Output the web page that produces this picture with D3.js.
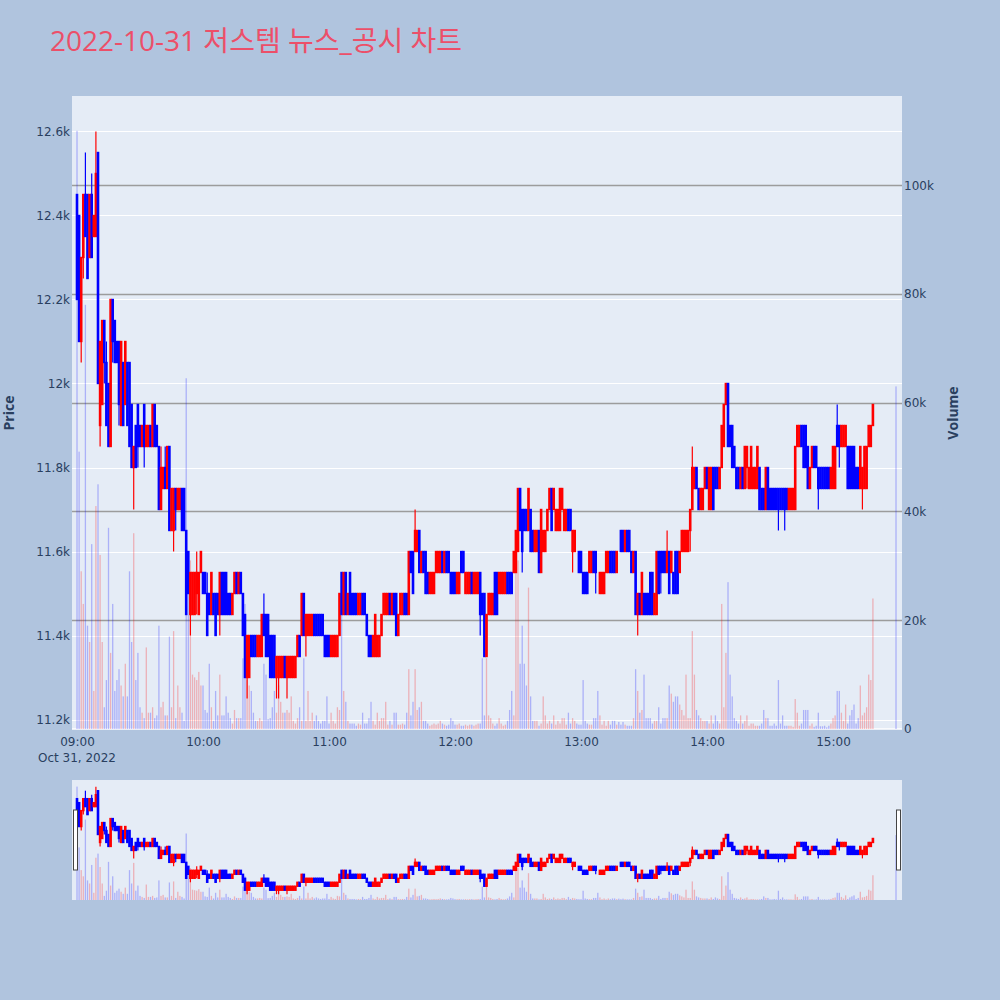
<!DOCTYPE html>
<html><head><meta charset="utf-8">
<script src="https://cdn.jsdelivr.net/npm/d3@7"></script>
<style>
body{margin:0;background:#B0C4DE;}
svg{display:block;font-family:"Open Sans",Verdana,Arial,"Noto Sans CJK KR",sans-serif;}
</style>
</head><body>
<svg id="chart" width="1000" height="1000"></svg>
<script>
// ---------------- data ----------------
const titleText = "2022-10-31 저스템 뉴스_공시 차트";
const sessionDate = "2022-10-31";
const firstMinute = "09:00";
const closingAuction = "15:30";
const continuousMinutes = 380; // 09:00 .. 15:19, one candle per minute

const opens = [
12450,12400,12100,12300,12450,12450,12300,12450,12350,12350,
12550,11900,11950,12150,12050,12000,11850,12200,12150,12100,
12100,11900,12050,11950,12050,12050,11950,11800,11900,11950,
11900,11850,11950,11850,11850,11900,11850,11950,11900,11850,
11700,11750,11800,11750,11850,11650,11650,11750,11700,11700,
11750,11750,11650,11600,11450,11450,11450,11500,11450,11550,
11550,11550,11500,11500,11450,11500,11500,11500,11450,11550,
11550,11550,11500,11500,11450,11500,11550,11500,11550,11500,
11450,11300,11300,11400,11400,11400,11350,11350,11350,11450,
11450,11450,11400,11400,11400,11300,11300,11300,11300,11350,
11300,11300,11300,11300,11300,11350,11400,11400,11500,11400,
11400,11400,11400,11450,11450,11450,11450,11450,11400,11400,
11400,11350,11350,11350,11350,11400,11550,11450,11550,11450,
11550,11500,11500,11500,11450,11450,11500,11500,11450,11400,
11400,11350,11350,11350,11350,11400,11450,11450,11450,11500,
11450,11500,11500,11400,11450,11450,11500,11500,11450,11600,
11600,11600,11600,11650,11550,11600,11600,11550,11500,11500,
11500,11550,11550,11550,11600,11550,11600,11600,11550,11550,
11550,11500,11500,11600,11600,11500,11500,11500,11550,11500,
11500,11500,11550,11500,11500,11350,11450,11450,11450,11550,
11550,11500,11500,11500,11500,11550,11550,11550,11550,11550,
11600,11750,11700,11700,11700,11650,11700,11650,11600,11600,
11650,11550,11600,11600,11650,11700,11750,11700,11650,11650,
11650,11700,11650,11650,11700,11700,11600,11600,11600,11600,
11600,11550,11550,11550,11550,11550,11600,11600,11550,11500,
11500,11500,11550,11550,11600,11600,11600,11550,11600,11650,
11650,11600,11650,11650,11600,11550,11600,11450,11500,11450,
11500,11500,11500,11550,11550,11450,11450,11600,11600,11600,
11600,11550,11600,11550,11550,11600,11600,11550,11600,11600,
11600,11600,11650,11700,11750,11800,11750,11700,11700,11750,
11800,11700,11700,11800,11800,11800,11750,11800,11850,11950,
12000,11900,11900,11850,11800,11800,11750,11800,11750,11800,
11750,11750,11750,11750,11750,11800,11750,11750,11700,11800,
11750,11750,11750,11750,11750,11750,11750,11750,11750,11700,
11700,11700,11700,11850,11850,11900,11900,11900,11850,11750,
11800,11850,11850,11800,11800,11800,11800,11800,11800,11750,
11750,11750,11900,11900,11850,11850,11850,11850,11850,11850,
11850,11800,11800,11750,11750,11750,11750,11850,11850,11900,
11900];

const highs = [
12450,12400,12300,12450,12550,12450,12450,12500,12400,12600,
12550,12100,12150,12150,12100,12000,12200,12200,12150,12100,
12100,12100,12050,12100,12050,12050,11950,11850,11900,11950,
11900,11900,11950,11900,11900,11900,11950,11950,11900,11850,
11850,11800,11850,11850,11850,11750,11750,11750,11750,11750,
11750,11750,11650,11600,11550,11550,11550,11600,11550,11600,
11550,11550,11550,11500,11550,11500,11500,11500,11550,11550,
11550,11550,11500,11500,11500,11550,11550,11550,11550,11500,
11450,11400,11400,11400,11400,11400,11400,11400,11450,11500,
11450,11450,11400,11400,11400,11350,11350,11350,11350,11350,
11350,11350,11350,11350,11350,11400,11400,11500,11500,11450,
11450,11450,11450,11450,11450,11450,11450,11450,11400,11400,
11400,11400,11400,11400,11400,11500,11550,11550,11550,11500,
11550,11500,11500,11500,11500,11500,11500,11500,11450,11400,
11400,11400,11450,11400,11400,11450,11500,11500,11500,11500,
11500,11500,11500,11450,11500,11500,11500,11500,11600,11600,
11600,11700,11650,11650,11600,11600,11600,11550,11550,11550,
11550,11600,11600,11600,11600,11600,11600,11600,11550,11550,
11550,11550,11550,11600,11600,11550,11550,11550,11550,11550,
11550,11550,11550,11500,11500,11450,11500,11500,11500,11550,
11550,11550,11550,11550,11550,11550,11550,11550,11600,11650,
11750,11750,11700,11700,11700,11750,11700,11650,11650,11650,
11650,11700,11650,11650,11700,11750,11750,11750,11700,11700,
11750,11750,11700,11700,11700,11700,11650,11650,11600,11600,
11600,11550,11550,11550,11600,11600,11600,11600,11550,11550,
11550,11550,11600,11600,11600,11600,11600,11600,11600,11650,
11650,11650,11650,11650,11600,11600,11600,11500,11500,11550,
11500,11500,11500,11550,11550,11500,11600,11600,11600,11600,
11600,11650,11600,11600,11550,11600,11600,11600,11650,11650,
11650,11650,11700,11850,11800,11800,11750,11750,11750,11800,
11800,11800,11800,11800,11800,11800,11800,11900,11950,12000,
12000,11900,11900,11850,11800,11800,11800,11800,11850,11850,
11800,11850,11800,11800,11850,11800,11750,11750,11800,11800,
11750,11750,11750,11750,11750,11750,11750,11750,11750,11750,
11750,11750,11850,11900,11900,11900,11900,11900,11850,11800,
11850,11850,11850,11800,11800,11800,11800,11800,11800,11800,
11850,11850,11950,11900,11900,11900,11900,11850,11850,11850,
11850,11800,11800,11850,11800,11850,11850,11900,11900,11950,
11900];

const lows = [
12200,12100,12050,12250,12350,12250,12300,12300,12350,12350,
12000,11850,11950,12000,11900,11850,11850,12050,12050,12050,
11900,11900,11900,11950,11900,11850,11800,11700,11800,11800,
11850,11850,11800,11850,11850,11850,11850,11850,11850,11700,
11700,11750,11750,11750,11650,11650,11600,11650,11700,11700,
11650,11650,11450,11500,11400,11450,11450,11450,11450,11550,
11500,11500,11400,11450,11450,11450,11400,11450,11400,11450,
11450,11450,11450,11450,11450,11500,11500,11500,11500,11400,
11300,11250,11300,11350,11350,11350,11350,11350,11350,11400,
11350,11350,11300,11300,11300,11250,11250,11300,11300,11300,
11250,11300,11300,11300,11300,11350,11350,11400,11400,11350,
11400,11400,11400,11400,11400,11400,11400,11400,11350,11350,
11350,11350,11350,11350,11350,11400,11450,11450,11450,11450,
11450,11450,11450,11450,11450,11450,11450,11450,11400,11350,
11350,11350,11350,11350,11350,11400,11450,11450,11450,11450,
11450,11450,11400,11400,11450,11450,11450,11450,11450,11550,
11500,11600,11600,11550,11550,11550,11500,11500,11500,11500,
11500,11550,11550,11550,11550,11550,11550,11550,11500,11500,
11500,11500,11500,11550,11550,11500,11500,11500,11500,11500,
11500,11500,11400,11450,11350,11350,11450,11450,11450,11450,
11450,11500,11500,11500,11500,11500,11500,11500,11550,11550,
11600,11650,11550,11650,11650,11650,11600,11600,11600,11600,
11550,11550,11600,11600,11650,11700,11650,11700,11650,11650,
11650,11700,11650,11650,11650,11650,11550,11600,11600,11550,
11550,11500,11500,11500,11550,11550,11550,11500,11550,11500,
11500,11500,11550,11550,11550,11550,11550,11550,11600,11600,
11600,11600,11600,11600,11550,11550,11450,11400,11450,11450,
11450,11450,11450,11450,11450,11450,11450,11500,11500,11550,
11550,11550,11500,11550,11500,11500,11500,11550,11600,11600,
11600,11600,11600,11700,11750,11750,11700,11700,11700,11750,
11750,11700,11700,11700,11750,11750,11750,11800,11850,11950,
11850,11850,11800,11800,11750,11750,11750,11750,11750,11750,
11750,11750,11750,11750,11750,11700,11700,11700,11700,11700,
11700,11700,11700,11700,11650,11700,11700,11650,11700,11700,
11700,11700,11700,11850,11850,11850,11800,11800,11750,11750,
11800,11800,11800,11700,11750,11750,11750,11750,11750,11750,
11750,11750,11850,11800,11850,11850,11850,11750,11750,11750,
11750,11750,11750,11750,11700,11750,11750,11850,11850,11900,
11900];

const closes = [
12200,12100,12300,12450,12350,12250,12450,12300,12400,12500,
12000,12100,12150,12050,11900,11850,12200,12100,12050,12050,
11950,12100,11900,12100,11900,11850,11800,11850,11800,11850,
11850,11900,11850,11900,11900,11850,11950,11850,11850,11700,
11800,11800,11750,11850,11650,11750,11750,11700,11750,11750,
11650,11650,11450,11500,11550,11550,11550,11550,11550,11600,
11500,11500,11400,11450,11550,11450,11400,11450,11550,11450,
11450,11450,11450,11450,11500,11550,11500,11550,11500,11400,
11300,11400,11400,11350,11350,11350,11400,11400,11450,11400,
11350,11350,11300,11300,11300,11350,11350,11350,11350,11300,
11350,11350,11350,11350,11350,11400,11350,11500,11400,11450,
11450,11450,11450,11400,11400,11400,11400,11400,11350,11350,
11350,11400,11400,11400,11400,11500,11450,11550,11450,11500,
11450,11450,11450,11450,11500,11500,11450,11450,11400,11350,
11350,11400,11450,11400,11400,11450,11500,11500,11500,11450,
11500,11450,11400,11450,11500,11500,11450,11450,11600,11550,
11500,11650,11650,11550,11600,11550,11500,11500,11550,11550,
11550,11600,11600,11600,11550,11600,11550,11550,11500,11500,
11500,11550,11550,11550,11550,11550,11550,11550,11500,11550,
11550,11550,11450,11450,11350,11450,11500,11500,11500,11450,
11450,11550,11550,11550,11550,11500,11500,11500,11600,11650,
11750,11650,11600,11650,11650,11750,11600,11600,11650,11650,
11550,11700,11650,11650,11700,11750,11650,11750,11700,11700,
11750,11750,11700,11700,11650,11650,11650,11650,11600,11550,
11550,11500,11500,11500,11600,11600,11550,11550,11550,11550,
11550,11550,11600,11600,11550,11550,11550,11600,11600,11600,
11600,11650,11600,11600,11550,11600,11450,11500,11450,11550,
11450,11450,11450,11450,11450,11500,11600,11500,11550,11550,
11550,11600,11500,11600,11500,11500,11500,11600,11650,11650,
11650,11650,11700,11800,11800,11750,11700,11750,11750,11800,
11750,11800,11800,11700,11750,11750,11800,11900,11950,12000,
11850,11850,11800,11800,11750,11750,11800,11750,11850,11850,
11800,11850,11800,11800,11850,11700,11700,11700,11800,11700,
11700,11700,11700,11700,11700,11700,11700,11700,11700,11750,
11750,11750,11850,11900,11900,11850,11800,11800,11750,11800,
11850,11800,11800,11750,11750,11750,11750,11750,11750,11800,
11850,11850,11850,11850,11900,11900,11900,11750,11750,11750,
11750,11750,11750,11850,11800,11850,11850,11900,11900,11950,
11900];

const volumes = [
110000,51000,29000,23000,78000,19000,16000,34000,7000,41000,
45000,32000,16000,4000,9000,37000,14000,23000,7000,9000,
11000,8000,6000,12000,6000,29000,16000,36000,9000,14000,
4000,3000,2000,15000,3000,3000,4000,2000,2500,19000,
4000,5000,2500,2500,17000,4000,18000,2000,8000,4000,
3000,1500,64500,27000,31000,10000,9500,9000,10500,8000,
8000,3500,3000,12000,4000,1500,7000,2500,10000,2500,
2500,6000,3000,2000,1000,3500,2000,2000,2000,13000,
23000,9000,8000,7000,3000,1500,1500,2000,1500,12000,
10000,1800,2000,4000,7000,3000,8000,5000,3000,3000,
3500,3000,6000,1500,1000,2000,4000,1500,13000,1500,
7000,1500,3000,1500,2500,1500,1000,1500,1500,6000,
1000,3000,1500,1000,4000,3500,23000,7000,5000,1500,
1000,1000,1000,600,1000,800,3000,1000,1000,2000,
5000,1500,800,3000,1500,2000,2000,5000,800,1500,
800,3000,3000,800,800,1000,800,3000,11000,2500,
5000,11000,3500,4000,5000,1500,1500,1000,600,800,
1000,800,1000,1500,1000,800,600,800,2000,1500,
800,800,1000,600,600,800,600,800,800,600,
800,1000,1000,13000,2500,13000,2500,2000,1000,600,
1000,2000,1000,600,800,1500,3500,7000,2500,31000,
31000,12000,19000,12000,8000,26000,6000,1500,1500,1500,
600,1000,6000,2500,1000,1500,1000,2500,800,1500,
1000,2000,2000,800,3000,1000,2000,1500,1000,800,
800,9000,1500,1000,800,800,2000,2000,7000,2500,
800,1500,600,1500,800,1500,1500,800,1300,800,
1300,800,600,600,600,2000,11000,7000,3000,3500,
10000,2000,2000,2000,1000,1500,1500,4000,1000,2000,
2000,2000,8000,6500,5000,6000,6000,4500,3500,2500,
10000,2000,2000,18000,10000,3500,2500,2000,1500,1500,
1500,1000,2500,1000,2500,1500,1000,23000,4000,14000,
27000,10000,6000,2000,1500,1000,2500,1000,1500,2500,
600,1000,1000,600,600,600,1000,3500,2000,2000,
600,600,1000,600,9000,1000,2500,600,600,600,
600,400,5500,3000,600,1000,3500,3500,3500,600,
1000,400,600,3000,500,500,600,300,600,1000,
2000,2500,7000,7000,3000,1500,4500,1000,2500,3500,
4500,1000,2000,8000,2500,3000,4000,10000,9000,24000,
63000];

const priceTicks = [11200,11400,11600,11800,12000,12200,12400,12600];
const volumeTicks = [0,20000,40000,60000,80000,100000];
const hourTicks = ["09:00","10:00","11:00","12:00","13:00","14:00","15:00"];
const dateLabel = "Oct 31, 2022";

// ---------------- build ----------------
const parse = d3.timeParse("%Y-%m-%d %H:%M");
const t0 = parse(sessionDate + " " + firstMinute);
const times = d3.range(continuousMinutes).map(i => d3.timeMinute.offset(t0, i))
  .concat([parse(sessionDate + " " + closingAuction)]);
const rows = times.map((t, i) => ({t, o: opens[i], h: highs[i], l: lows[i], c: closes[i], v: volumes[i]}));

const UP = "#FF0000", DOWN = "#0000FF";
const colorOf = d => d.c > d.o ? UP : DOWN;
const TICK_FONT = '"DejaVu Sans", Verdana, sans-serif';

const P = {left: 72, right: 902, top: 96, bottom: 729};
const S = {top: 780, bottom: 900};

const x = d3.scaleTime()
  .domain([d3.timeSecond.offset(t0, -143), d3.timeSecond.offset(t0, 23571)])
  .range([P.left, P.right]);
const yP = d3.scaleLinear().domain([11177.4, 12684.5]).range([P.bottom, P.top]);
const yV = d3.scaleLinear().domain([0, 116400]).range([P.bottom, P.top]);
const ySP = d3.scaleLinear().domain(yP.domain()).range([S.bottom, S.top]);
const ySV = d3.scaleLinear().domain(yV.domain()).range([S.bottom, S.top]);

const svg = d3.select("#chart");
svg.append("rect").attr("width", 1000).attr("height", 1000).attr("fill", "#B0C4DE");

// title
svg.append("text").attr("x", 50).attr("y", 50.5)
  .attr("font-size", 28).attr("fill", "#EC4F69").text(titleText);

// plot background
svg.append("rect").attr("x", P.left).attr("y", P.top)
  .attr("width", P.right - P.left).attr("height", P.bottom - P.top).attr("fill", "#E5ECF6");

// price grid (white)
svg.append("g").selectAll("line").data(priceTicks).join("line")
  .attr("x1", P.left).attr("x2", P.right)
  .attr("y1", d => Math.round(yP(d)) + 0.5).attr("y2", d => Math.round(yP(d)) + 0.5)
  .attr("stroke", "#fff").attr("stroke-width", 1);
// volume grid (gray)
svg.append("g").selectAll("line").data(volumeTicks.filter(d => d > 0)).join("line")
  .attr("x1", P.left).attr("x2", P.right)
  .attr("y1", d => Math.round(yV(d)) + 0.5).attr("y2", d => Math.round(yV(d)) + 0.5)
  .attr("stroke", "#9C9C9C").attr("stroke-width", 1.3);
svg.append("line").attr("x1", P.left).attr("x2", P.right)
  .attr("y1", yV(0)).attr("y2", yV(0)).attr("stroke", "#fff").attr("stroke-width", 1.5);

function drawSeries(g, yPrice, yVol) {
  g.append("g").selectAll("rect").data(rows).join("rect")
    .attr("x", d => x(d.t) - 0.65).attr("width", 1.3)
    .attr("y", d => yVol(d.v)).attr("height", d => yVol(0) - yVol(d.v))
    .attr("fill", colorOf).attr("fill-opacity", 0.25);
  g.append("g").selectAll("line").data(rows).join("line")
    .attr("x1", d => x(d.t)).attr("x2", d => x(d.t))
    .attr("y1", d => yPrice(d.h)).attr("y2", d => yPrice(d.l))
    .attr("stroke", colorOf).attr("stroke-width", 1.2);
  g.append("g").selectAll("rect").data(rows).join("rect")
    .attr("x", d => x(d.t) - 0.6).attr("width", 1.2)
    .attr("y", d => Math.min(yPrice(d.o), yPrice(d.c)))
    .attr("height", d => Math.abs(yPrice(d.o) - yPrice(d.c)))
    .attr("fill", colorOf).attr("stroke", colorOf).attr("stroke-width", 1.4);
}

const main = svg.append("g");
drawSeries(main, yP, yV);

// axes
const fmt = d3.format("~s");
const axisFont = g => g.attr("font-family", null).attr("font-size", null)
  .call(s => s.select(".domain").remove())
  .call(s => s.selectAll("text").attr("fill", "#2a3f5f").attr("font-size", 12).attr("font-family", TICK_FONT));

svg.append("g").attr("transform", `translate(${P.left},0)`)
  .call(d3.axisLeft(yP).tickValues(priceTicks).tickSize(0).tickPadding(2).tickFormat(fmt))
  .call(axisFont);
svg.append("g").attr("transform", `translate(${P.right},0)`)
  .call(d3.axisRight(yV).tickValues(volumeTicks).tickSize(0).tickPadding(2).tickFormat(fmt))
  .call(axisFont);
const hourDates = hourTicks.map(h => parse(sessionDate + " " + h));
svg.append("g").attr("transform", `translate(0,${P.bottom})`)
  .call(d3.axisBottom(x).tickValues(hourDates).tickSize(0).tickPadding(8).tickFormat(d3.timeFormat("%H:%M")))
  .call(axisFont);
svg.append("text").attr("x", x(t0)).attr("y", 761.5).attr("text-anchor", "middle")
  .attr("font-family", TICK_FONT)
  .attr("font-size", 12).attr("fill", "#2a3f5f").text(dateLabel);

// axis titles
svg.append("text").attr("transform", "translate(14,413) rotate(-90)")
  .attr("text-anchor", "middle").attr("font-size", 14).attr("font-weight", "bold")
  .attr("fill", "#2a3f5f").text("Price");
svg.append("text").attr("transform", "translate(958,413) rotate(-90)")
  .attr("text-anchor", "middle").attr("font-size", 14).attr("font-weight", "bold")
  .attr("fill", "#2a3f5f").text("Volume");

// range slider
svg.append("rect").attr("x", P.left).attr("y", S.top)
  .attr("width", P.right - P.left).attr("height", S.bottom - S.top).attr("fill", "#E5ECF6");
const slider = svg.append("g");
slider.append("clipPath").attr("id", "sclip").append("rect")
  .attr("x", P.left).attr("y", S.top).attr("width", P.right - P.left).attr("height", S.bottom - S.top);
const sg = slider.append("g").attr("clip-path", "url(#sclip)");
drawSeries(sg, ySP, ySV);
[P.left + 3.5, P.right - 3.5].forEach(hx => {
  svg.append("rect").attr("x", hx - 2).attr("y", 810).attr("width", 4).attr("height", 60)
    .attr("fill", "#fff").attr("stroke", "#444").attr("stroke-width", 1);
});
</script>
</body></html>
